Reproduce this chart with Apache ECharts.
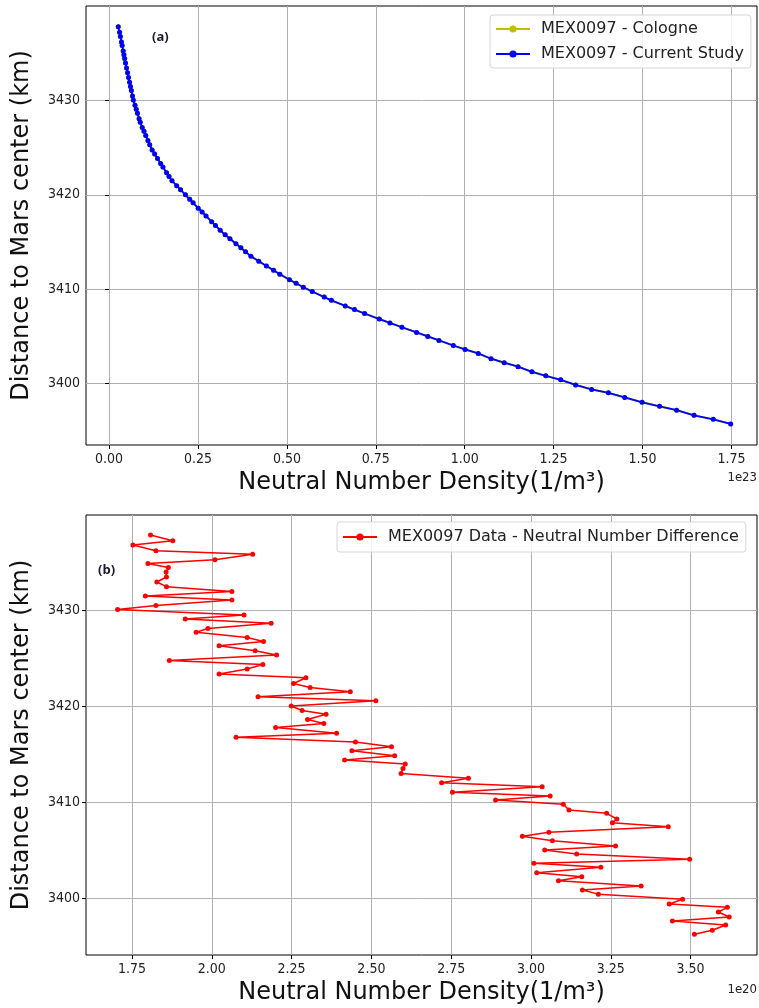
<!DOCTYPE html>
<html>
<head>
<meta charset="utf-8">
<script src="https://cdn.jsdelivr.net/npm/echarts@6/dist/echarts.min.js"></script>
<style>
html,body{margin:0;padding:0;background:#fff;}
#chart{width:759px;height:1008px;}
</style>
</head>
<body>
<div id="chart"></div>
<script>
// Altitudes (km, distance to Mars center) of the profile samples
const altitude = [
3437.81,3437.21,3436.77,3436.18,3435.81,3435.23,3434.84,3434.43,3433.96,3433.44,
3432.92,3432.43,3431.93,3431.46,3431.04,3430.47,3430.05,3429.48,3429.06,3428.63,
3428.07,3427.68,3427.14,3426.72,3426.28,3425.75,3425.31,3424.74,3424.32,3423.85,
3423.33,3422.95,3422.34,3421.93,3421.49,3420.97,3420.54,3420.00,3419.53,3419.15,
3418.59,3418.18,3417.76,3417.16,3416.75,3416.25,3415.76,3415.34,3414.81,3414.38,
3413.96,3413.49,3412.97,3412.47,3412.00,3411.59,3411.01,3410.63,3410.21,3409.76,
3409.17,3408.82,3408.23,3407.84,3407.43,3406.84,3406.43,3405.97,3405.42,3405.00,
3404.58,3404.04,3403.62,3403.20,3402.64,3402.22,3401.80,3401.25,3400.83,3400.40,
3399.86,3399.38,3399.03,3398.54,3398.02,3397.60,3397.19,3396.64,3396.22,3395.73
];
// Neutral number density (units of 1e23 per m^3), Cologne profile
const densityCologne = [
0.0257,0.0293,0.0317,0.0347,0.0366,0.0396,0.0416,0.0437,0.0461,0.0489,
0.0519,0.0546,0.0575,0.0601,0.0625,0.0657,0.0681,0.0728,0.0763,0.0798,
0.0843,0.0875,0.0931,0.0980,0.1030,0.1091,0.1142,0.1210,0.1281,0.1361,
0.1448,0.1513,0.1616,0.1685,0.1768,0.1900,0.2009,0.2146,0.2266,0.2362,
0.2505,0.2614,0.2725,0.2883,0.2991,0.3123,0.3264,0.3398,0.3567,0.3706,
0.3838,0.3988,0.4209,0.4423,0.4625,0.4801,0.5071,0.5259,0.5461,0.5712,
0.6050,0.6250,0.6641,0.6900,0.7184,0.7598,0.7897,0.8235,0.8647,0.8961,
0.9276,0.9680,1.0010,1.0380,1.0740,1.1110,1.1500,1.1890,1.2280,1.2700,
1.3120,1.3570,1.4040,1.4500,1.4990,1.5480,1.5960,1.6450,1.6990,1.7480
];
// Current study profile (indistinguishable from Cologne at this scale)
const densityCurrent = [
0.0257,0.0293,0.0317,0.0347,0.0366,0.0396,0.0416,0.0437,0.0461,0.0489,
0.0519,0.0546,0.0575,0.0601,0.0625,0.0657,0.0681,0.0728,0.0763,0.0798,
0.0843,0.0875,0.0931,0.0980,0.1030,0.1091,0.1142,0.1210,0.1281,0.1361,
0.1448,0.1513,0.1616,0.1685,0.1768,0.1900,0.2009,0.2146,0.2266,0.2362,
0.2505,0.2614,0.2725,0.2883,0.2991,0.3123,0.3264,0.3398,0.3567,0.3706,
0.3838,0.3988,0.4209,0.4423,0.4625,0.4801,0.5071,0.5259,0.5461,0.5712,
0.6050,0.6250,0.6641,0.6900,0.7184,0.7598,0.7897,0.8235,0.8647,0.8961,
0.9276,0.9680,1.0010,1.0380,1.0740,1.1110,1.1500,1.1890,1.2280,1.2700,
1.3120,1.3570,1.4040,1.4500,1.4990,1.5480,1.5960,1.6450,1.6990,1.7480
];
// Neutral number difference (units of 1e20 per m^3), first 89 altitudes
const difference = [
1.808,1.878,1.753,1.825,2.128,2.010,1.800,1.864,1.857,1.858,
1.828,1.858,2.063,1.792,2.063,1.825,1.705,2.101,1.917,2.186,
1.988,1.951,2.111,2.162,2.023,2.136,2.203,1.867,2.160,2.111,
2.023,2.295,2.256,2.308,2.434,2.145,2.514,2.249,2.283,2.358,
2.300,2.351,2.200,2.391,2.076,2.450,2.563,2.439,2.573,2.416,
2.606,2.599,2.593,2.804,2.720,3.035,2.754,3.060,2.889,3.101,
3.119,3.237,3.269,3.255,3.430,3.056,2.973,3.067,3.265,3.043,
3.143,3.497,3.009,3.219,3.018,3.159,3.086,3.345,3.161,3.211,
3.475,3.433,3.615,3.587,3.621,3.443,3.610,3.568,3.512
];
const topXTicks = [0, 0.25, 0.5, 0.75, 1.0, 1.25, 1.5, 1.75];
const bottomXTicks = [1.75, 2.0, 2.25, 2.5, 2.75, 3.0, 3.25, 3.5];
const yTicks = [3400, 3410, 3420, 3430];
const names = ['MEX0097 - Cologne', 'MEX0097 - Current Study', 'MEX0097 Data - Neutral Number Difference'];

const pairs = (xs, ys) => xs.map((x, i) => [x, ys[i]]);

const tickFont = {fontFamily: 'DejaVu Sans Condensed, DejaVu Sans', fontSize: 14, color: '#222'};
const gridLine = {show: true, lineStyle: {color: '#b0b0b0', width: 1}};

function xAxis(gridIndex, min, max, ticks) {
  return {
    type: 'value', gridIndex, min, max,
    name: 'Neutral Number Density(1/m³)', nameLocation: 'middle', nameGap: 26,
    nameTextStyle: {fontFamily: 'DejaVu Sans', fontSize: 24, color: '#111'},
    axisLine: {show: false},
    axisTick: {show: true, length: 4, customValues: ticks, lineStyle: {color: '#000'}},
    axisLabel: Object.assign({customValues: ticks, margin: 7, formatter: v => v.toFixed(2)}, tickFont),
    splitLine: gridLine
  };
}
function yAxis(gridIndex, min, max) {
  return {
    type: 'value', gridIndex, min, max,
    name: 'Distance to Mars center (km)', nameLocation: 'middle', nameGap: 52, nameRotate: 90,
    nameTextStyle: {fontFamily: 'DejaVu Sans', fontSize: 24, color: '#111'},
    axisLine: {show: false},
    axisTick: {show: true, length: 4, customValues: yTicks, lineStyle: {color: '#000'}},
    axisLabel: Object.assign({customValues: yTicks, margin: 6, formatter: v => String(v)}, tickFont),
    splitLine: gridLine
  };
}

const legendText = {fontFamily: 'DejaVu Sans', fontSize: 16, color: '#222', padding: [0, 0, 0, 6]};

const chart = echarts.init(document.getElementById('chart'), null, {renderer: 'canvas'});
chart.setOption({
  animation: false,
  backgroundColor: '#fff',
  grid: [
    {left: 86, top: 6, width: 671, height: 439, show: true, borderColor: '#000', borderWidth: 1, backgroundColor: 'transparent'},
    {left: 86, top: 515, width: 671, height: 440, show: true, borderColor: '#000', borderWidth: 1, backgroundColor: 'transparent'}
  ],
  xAxis: [xAxis(0, -0.065, 1.822, topXTicks), xAxis(1, 1.606, 3.708, bottomXTicks)],
  yAxis: [yAxis(0, 3393.5, 3440.0), yAxis(1, 3394.06, 3439.9)],
  legend: [
    {
      data: [names[0], names[1]], orient: 'vertical', left: 490, top: 15, itemGap: 9,
      itemWidth: 34, itemHeight: 9, padding: [6, 7, 6, 5],
      borderColor: '#d6d6d6', borderWidth: 1, borderRadius: 3, backgroundColor: 'rgba(255,255,255,0.85)',
      textStyle: legendText
    },
    {
      data: [names[2]], orient: 'vertical', left: 337, top: 522,
      itemWidth: 34, itemHeight: 9, padding: [7, 7, 7, 5],
      borderColor: '#d6d6d6', borderWidth: 1, borderRadius: 3, backgroundColor: 'rgba(255,255,255,0.85)',
      textStyle: legendText
    }
  ],
  series: [
    {
      name: names[0], type: 'line', xAxisIndex: 0, yAxisIndex: 0,
      data: pairs(densityCologne, altitude), symbol: 'circle', symbolSize: 5,
      lineStyle: {color: '#bfbf00', width: 2}, itemStyle: {color: '#bfbf00'}, z: 3
    },
    {
      name: names[1], type: 'line', xAxisIndex: 0, yAxisIndex: 0,
      data: pairs(densityCurrent, altitude), symbol: 'circle', symbolSize: 5,
      lineStyle: {color: '#0000ff', width: 1.8}, itemStyle: {color: '#0000ff'}, z: 4
    },
    {
      name: names[2], type: 'line', xAxisIndex: 1, yAxisIndex: 1,
      data: pairs(difference, altitude.slice(0, difference.length)), symbol: 'circle', symbolSize: 5,
      lineStyle: {color: '#ff0000', width: 1.5}, itemStyle: {color: '#ff0000'}, z: 3
    }
  ],
  graphic: [
    {type: 'text', left: 152, top: 31, style: {text: '(a)', font: 'bold 13px "Open Sans", "DejaVu Sans"', fill: '#1a1a2e'}},
    {type: 'text', left: 98, top: 564, style: {text: '(b)', font: 'bold 13px "Open Sans", "DejaVu Sans"', fill: '#1a1a2e'}},
    {type: 'text', right: 2, top: 471, style: {text: '1e23', font: '13px "DejaVu Sans Condensed", "DejaVu Sans"', fill: '#222'}},
    {type: 'text', right: 2, top: 983, style: {text: '1e20', font: '13px "DejaVu Sans Condensed", "DejaVu Sans"', fill: '#222'}}
  ]
});
</script>
</body>
</html>
